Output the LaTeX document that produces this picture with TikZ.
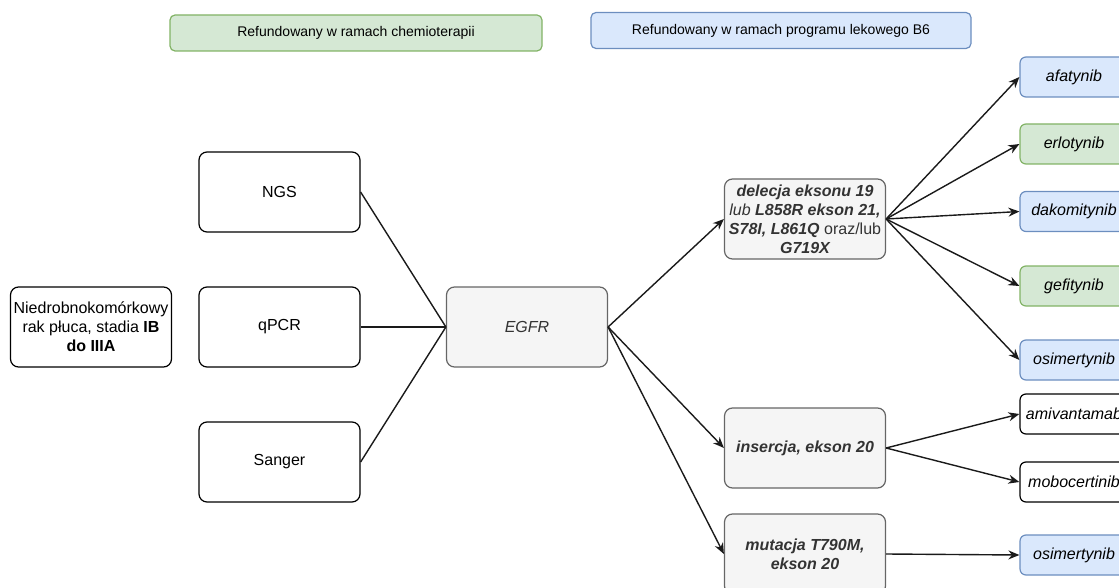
\documentclass[tikz,border=0pt]{standalone}
\usepackage{fontspec}
\setmainfont{Liberation Sans}
\usetikzlibrary{arrows.meta}
\definecolor{greenFill}{HTML}{D5E8D4}
\definecolor{greenDraw}{HTML}{82B366}
\definecolor{blueFill}{HTML}{DAE8FC}
\definecolor{blueDraw}{HTML}{6C8EBF}
\definecolor{grayFill}{HTML}{F5F5F5}
\definecolor{grayDraw}{HTML}{666666}
\definecolor{grayText}{HTML}{333333}
\definecolor{lineCol}{HTML}{1A1A1A}
\tikzset{
  bigbox/.style={rounded corners=8pt, draw, line width=1.2pt,
    minimum width=161pt, minimum height=80pt, align=center, inner sep=1pt,
    font=\fontsize{16}{19}\selectfont},
  plainbox/.style={bigbox, draw=black, fill=white},
  graybox/.style={bigbox, draw=grayDraw, fill=grayFill, text=grayText},
  drug/.style={rounded corners=6pt, draw, line width=1.2pt,
    minimum width=108pt, minimum height=40pt, inner sep=1pt,
    font=\fontsize{16}{19}\selectfont\itshape},
  bluedrug/.style={drug, draw=blueDraw, fill=blueFill},
  greendrug/.style={drug, draw=greenDraw, fill=greenFill},
  whitedrug/.style={drug, draw=black, fill=white},
  legend/.style={rounded corners=5pt, draw, line width=1.2pt, minimum height=36pt,
    font=\fontsize{14}{17}\selectfont, text=black},
  link/.style={draw=lineCol, line width=1.4pt},
  arrowlink/.style={link, -{Stealth[length=11pt,width=9pt]}}
}
\begin{document}
\begin{tikzpicture}[x=1pt,y=-1pt]
\useasboundingbox (0,0) rectangle (1119,588);
\clip (0,0) rectangle (1119,588);

% legend
\node[legend, draw=greenDraw, fill=greenFill, minimum width=372pt] (legG) at (356,33)
  {Refundowany w ramach chemioterapii};
\node[legend, draw=blueDraw, fill=blueFill, minimum width=380pt] (legB) at (781,30.5)
  {Refundowany w ramach programu lekowego B6};

% diagnosis and test methods
\node[plainbox] (nsclc) at (91,327)
  {Niedrobnokomórkowy\\rak płuca, stadia \textbf{IB}\\\textbf{do IIIA}};
\node[plainbox] (ngs) at (279.5,192) {NGS};
\node[plainbox] (qpcr) at (279.5,327) {qPCR};
\node[plainbox] (sanger) at (279.5,462) {Sanger};

% gene and mutation types
\node[graybox] (egfr) at (527,327) {\itshape EGFR};
\node[graybox] (del) at (805,219)
  {{\bfseries\itshape delecja eksonu 19}\\
   {\itshape lub \bfseries L858R ekson 21,}\\
   {\bfseries\itshape S78I, L861Q} oraz/lub\\
   {\bfseries\itshape G719X}};
\node[graybox] (ins) at (805,448) {\bfseries\itshape insercja, ekson 20};
\node[graybox] (mut) at (805,554) {\bfseries\itshape mutacja T790M,\\\bfseries\itshape ekson 20};

% drugs
\node[bluedrug] (afa) at (1074,77) {afatynib};
\node[greendrug] (erlo) at (1074,144) {erlotynib};
\node[bluedrug] (dako) at (1074,211.5) {dakomitynib};
\node[greendrug] (gefi) at (1074,286) {gefitynib};
\node[bluedrug] (osi) at (1074,360) {osimertynib};
\node[whitedrug] (amiv) at (1074,414) {amivantamab};
\node[whitedrug] (mobo) at (1074,482) {mobocertinib};
\node[bluedrug] (osiT) at (1074,555) {osimertynib};

% connectors
\draw[link] (ngs.east) -- (egfr.west);
\draw[link] (qpcr.east) -- (egfr.west);
\draw[link] (sanger.east) -- (egfr.west);

\draw[arrowlink] (egfr.east) -- (del.west);
\draw[arrowlink] (egfr.east) -- (ins.west);
\draw[arrowlink] (egfr.east) -- (mut.west);

\foreach \d in {afa,erlo,dako,gefi,osi}
  \draw[arrowlink] (del.east) -- (\d.west);
\draw[arrowlink] (ins.east) -- (amiv.west);
\draw[arrowlink] (ins.east) -- (mobo.west);
\draw[arrowlink] (mut.east) -- (osiT.west);
\end{tikzpicture}
\end{document}
